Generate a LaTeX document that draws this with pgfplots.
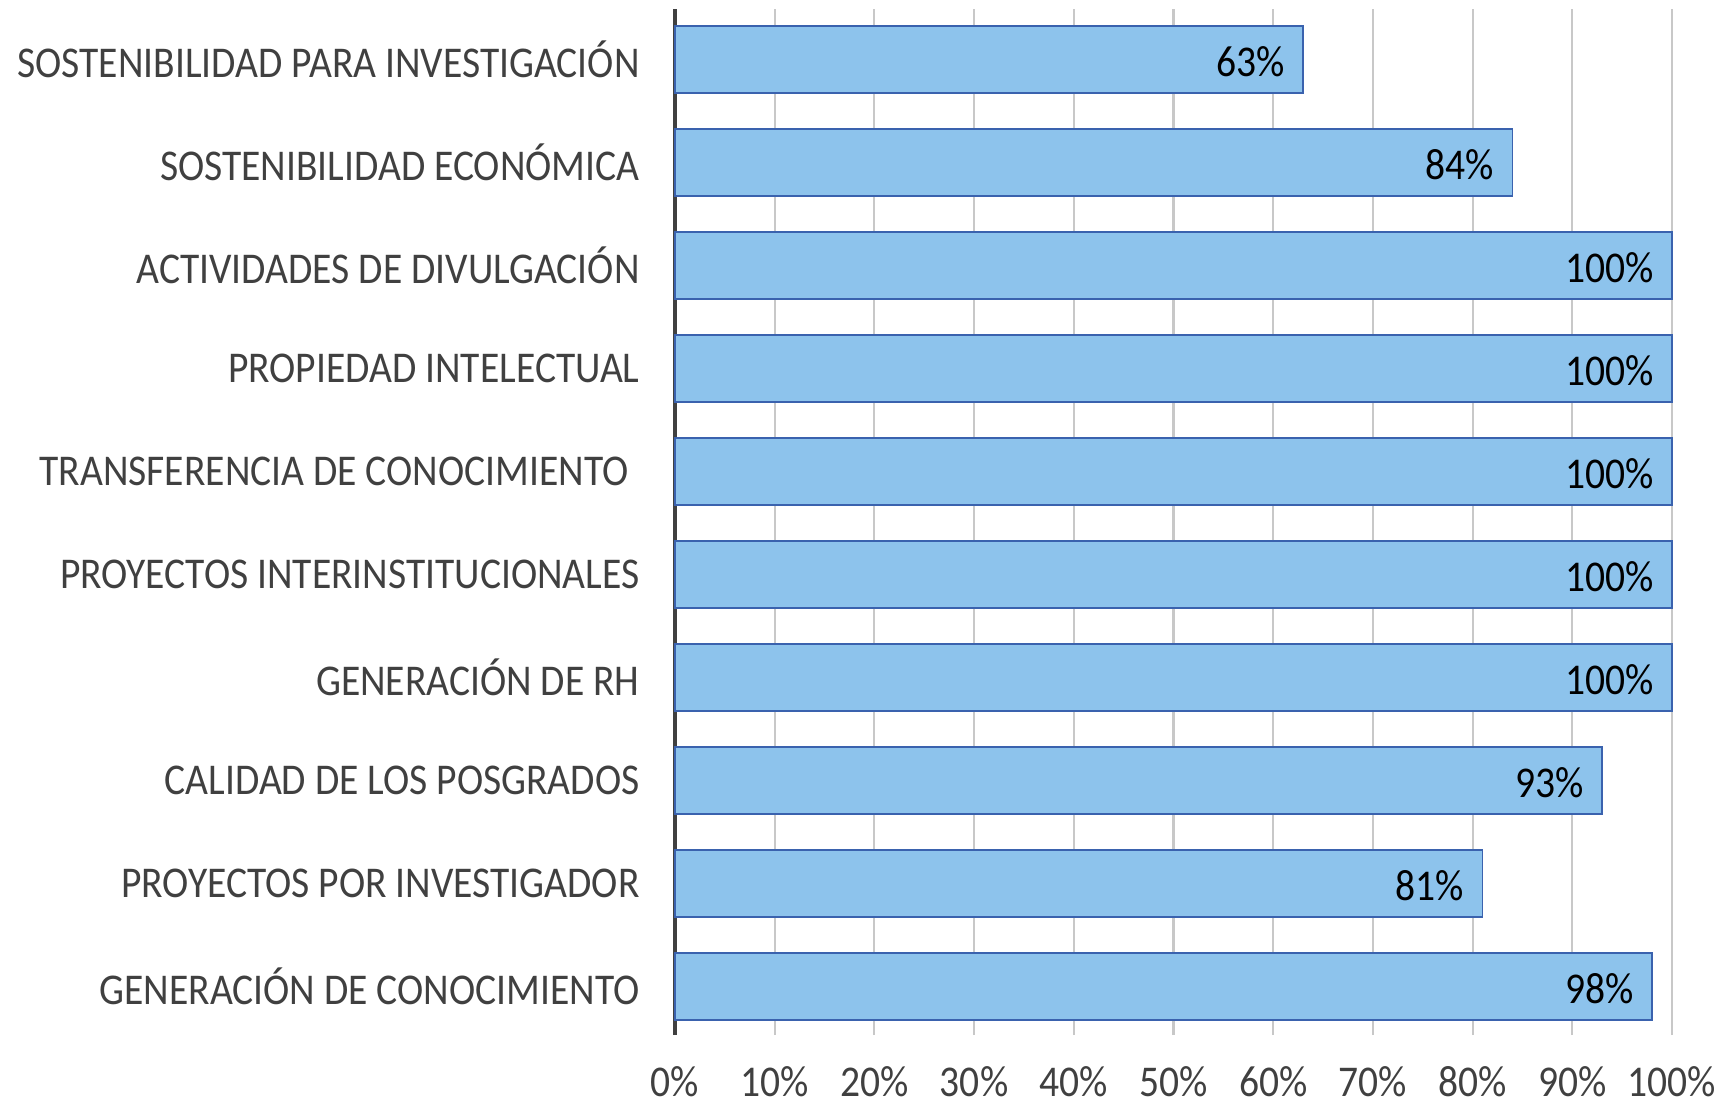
\documentclass[border=0pt]{standalone}
\usepackage{fontspec}
\setmainfont[FakeStretch=0.9]{Carlito}
\usepackage{pgfplots}
\pgfplotsset{compat=1.18}
\definecolor{barfill}{HTML}{8DC3EC}
\definecolor{baredge}{HTML}{3A62AE}
\definecolor{labgray}{HTML}{404040}
\definecolor{gridgray}{HTML}{C8C8C8}

\begin{document}
\begin{tikzpicture}
  \begin{axis}[
    at={(0,0)}, anchor=south west,
    xbar, width=9.97cm, height=10.26cm, scale only axis,
    xmin=0, xmax=100, ymin=-0.47, ymax=9.49,
    bar width=6.7mm,
    xtick={0,10,...,100},
    xticklabel={\pgfmathprintnumber{\tick}\%},
    ytick={0,...,9},
    yticklabels={GENERACIÓN DE CONOCIMIENTO, PROYECTOS POR INVESTIGADOR, CALIDAD DE LOS POSGRADOS, GENERACIÓN DE RH, PROYECTOS INTERINSTITUCIONALES, {TRANSFERENCIA DE CONOCIMIENTO\hspace*{0.25em}}, PROPIEDAD INTELECTUAL, ACTIVIDADES DE DIVULGACIÓN, SOSTENIBILIDAD ECONÓMICA, SOSTENIBILIDAD PARA INVESTIGACIÓN},
    major tick length=0pt,
    /pgf/number format/assume math mode=true,
    tick label style={font=\fontsize{12.5}{14}\selectfont, text=labgray},
    xticklabel style={inner ysep=1pt, yshift=-2.7mm},
    yticklabel style={xshift=-2.3mm},
    xmajorgrids, grid style={gridgray, line width=0.6pt},
    axis x line*=bottom, x axis line style={draw=none},
    axis y line*=left, y axis line style={draw=labgray, line width=1.3pt, -},
    nodes near coords={\pgfmathprintnumber{\pgfplotspointmeta}\%},
    every node near coord/.append style={font=\fontsize{12.5}{14}\selectfont, text=black, anchor=east, xshift=-0.6mm, yshift=-0.2mm},
    clip=false,
  ]
    \addplot[fill=barfill, draw=baredge, line width=0.5pt] coordinates {
      (98,0) (81,1) (93,2) (100,3) (100,4) (100,5) (100,6) (100,7) (84,8) (63,9)};
  \end{axis}
  \pgfresetboundingbox
  \path[use as bounding box] (-6.75cm,-0.69cm) rectangle (10.52cm,10.35cm);
\end{tikzpicture}
\end{document}
